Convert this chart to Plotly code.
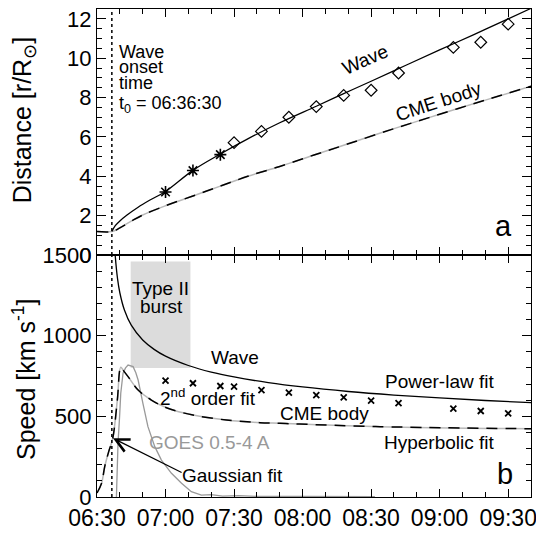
import plotly.graph_objects as go
from plotly.subplots import make_subplots

DAY = "2000-01-01 "

# ---- panel a: distance ----
eit_time = ["07:00:00", "07:12:00", "07:24:00"]
eit_dist = [3.2, 4.29, 5.1]

lasco_time = ["07:30:00", "07:42:00", "07:54:00", "08:06:00", "08:18:00",
              "08:30:00", "08:42:00", "09:06:00", "09:18:00", "09:30:00"]
lasco_dist = [5.71, 6.28, 7.0, 7.54, 8.11, 8.37, 9.25, 10.55, 10.81, 11.73]

wave_fit_time = ["06:36:30", "06:38:00", "06:40:00", "06:43:00", "06:48:00", "06:53:00",
                 "07:00:00", "07:12:00", "07:24:00", "07:36:00", "07:50:00", "08:06:00",
                 "08:18:00", "08:30:00", "08:45:00", "09:00:00", "09:15:00", "09:30:00", "09:40:00"]
wave_fit_dist = [1.19, 1.49, 1.73, 2.02, 2.43, 2.78, 3.23, 4.3, 5.13, 5.9, 6.72, 7.56,
                 8.2, 8.83, 9.63, 10.42, 11.2, 12.0, 12.53]

cme_fit_time = ["06:30:00", "06:36:30", "06:40:00", "06:45:00", "06:50:00", "07:00:00",
                "07:12:00", "07:24:00", "07:36:00", "07:50:00", "08:05:00", "08:20:00",
                "08:40:00", "09:00:00", "09:20:00", "09:40:00"]
cme_fit_dist = [1.19, 1.19, 1.38, 1.72, 2.03, 2.5, 3.0, 3.5, 4.0, 4.5, 5.08, 5.65,
                6.42, 7.15, 7.87, 8.57]

# ---- panel b: speed ----
wave_speed_time = ["06:37:36", "06:38:00", "06:39:00", "06:40:00", "06:42:00", "06:45:00",
                   "06:50:00", "06:55:00", "07:00:00", "07:10:00", "07:20:00", "07:30:00",
                   "07:45:00", "08:00:00", "08:20:00", "08:40:00", "09:00:00", "09:20:00",
                   "09:40:00"]
wave_speed = [1585, 1493, 1352, 1266, 1159, 1065, 973, 915, 873, 815, 774, 744,
              709, 682, 654, 632, 614, 598, 585]

cme_speed_time = ["06:30:00", "06:32:00", "06:33:24", "06:35:00", "06:36:54", "06:38:54",
                  "06:40:24", "06:41:30", "06:43:36", "06:48:00", "06:53:48", "07:01:00",
                  "07:12:00", "07:26:42", "07:41:18", "07:50:00", "07:58:42", "08:34:00",
                  "09:40:00"]
cme_speed = [25, 85, 190, 275, 364, 600, 805, 785, 746, 663, 601, 550,
             508, 477, 461, 457, 452, 436, 423]

meas_speed_time = eit_time + lasco_time
meas_speed = [721, 705, 688, 684, 663, 647, 632, 618, 597, 582, 548, 533, 519]

goes_time = ["06:38:30", "06:39:12", "06:39:54", "06:40:24", "06:41:24", "06:42:30",
             "06:43:36", "06:45:48", "06:47:00", "06:48:00", "06:50:06", "06:52:18",
             "06:55:18", "06:58:12", "07:02:36", "07:07:00", "07:11:18", "07:15:42",
             "07:20:00", "07:25:00", "07:32:00", "07:40:00", "08:00:00", "08:20:00",
             "08:31:40"]
goes_flux = [0, 333, 500, 643, 767, 800, 818, 808, 770, 725, 581, 436,
             312, 229, 147, 85, 33, 12, 15, 6, 8, 4, 3, 3, 2]

onset_time = "06:36:30"
typeII_start, typeII_end = "06:44:45", "07:10:54"
typeII_vmin, typeII_vmax = 800, 1460

x_start, x_end = "06:30:00", "09:40:00"


def T(lst):
    return [DAY + s for s in lst]


def t1(s):
    return DAY + s


REG = "Liberation Sans, Arial, Helvetica"
DASH = "11px,8px"
GRAY_LINE = "#b8b8b8"

fig = make_subplots(rows=2, cols=1, shared_xaxes=True, vertical_spacing=0,
                    row_heights=[246, 242])

# panel a
fig.add_trace(go.Scatter(x=T(cme_fit_time), y=cme_fit_dist, mode="lines",
                         line=dict(color=GRAY_LINE, width=1.5, shape="spline")), 1, 1)
fig.add_trace(go.Scatter(x=T(cme_fit_time), y=cme_fit_dist, mode="lines",
                         line=dict(color="black", width=1.5, dash=DASH, shape="spline")), 1, 1)
fig.add_trace(go.Scatter(x=T(wave_fit_time), y=wave_fit_dist, mode="lines",
                         line=dict(color="black", width=1.3, shape="spline")), 1, 1)
fig.add_trace(go.Scatter(x=T(eit_time), y=eit_dist, mode="markers",
                         marker=dict(symbol="asterisk-open", size=10, color="black",
                                     line=dict(width=1.6, color="black"))), 1, 1)
fig.add_trace(go.Scatter(x=T(lasco_time), y=lasco_dist, mode="markers",
                         marker=dict(symbol="diamond-open", size=9, color="black",
                                     line=dict(width=1.2, color="black"))), 1, 1)

# panel b
fig.add_trace(go.Scatter(x=T(goes_time), y=goes_flux, mode="lines",
                         line=dict(color="#999999", width=1.3)), 2, 1)
fig.add_trace(go.Scatter(x=T(cme_speed_time), y=cme_speed, mode="lines",
                         line=dict(color=GRAY_LINE, width=1.5, shape="spline")), 2, 1)
fig.add_trace(go.Scatter(x=T(cme_speed_time), y=cme_speed, mode="lines",
                         line=dict(color="black", width=1.5, dash=DASH, shape="spline")), 2, 1)
fig.add_trace(go.Scatter(x=T(wave_speed_time), y=wave_speed, mode="lines",
                         line=dict(color="black", width=1.3, shape="spline")), 2, 1)
fig.add_trace(go.Scatter(x=T(meas_speed_time), y=meas_speed, mode="markers",
                         marker=dict(symbol="x-thin-open", size=6, color="black",
                                     line=dict(width=1.8, color="black"))), 2, 1)

# shapes
fig.add_shape(type="rect", xref="x2", yref="y2", x0=t1(typeII_start), x1=t1(typeII_end),
              y0=typeII_vmin, y1=typeII_vmax, fillcolor="#dcdcdc", line=dict(width=0),
              layer="below")
for yr in ["y domain", "y2 domain"]:
    fig.add_shape(type="line", xref="x", yref=yr, x0=t1(onset_time), x1=t1(onset_time),
                  y0=0, y1=1, line=dict(color="black", width=1.5, dash="dot"))

ann = []


def A(text, x, y, yref, size=19, family=REG, angle=0, xanchor="center", color="black"):
    ann.append(dict(text=text, x=t1(x), y=y, xref="x", yref=yref, showarrow=False,
                    xanchor=xanchor, yanchor="middle", textangle=angle,
                    font=dict(size=size, family=family, color=color)))


A("Wave", "08:27:30", 9.95, "y", angle=-24)
A("CME body", "08:59:30", 7.8, "y", angle=-18)
A("Wave", "06:38:46", 10.3, "y", size=18, xanchor="left")
A("onset", "06:38:46", 9.55, "y", size=18, xanchor="left")
A("time", "06:38:46", 8.74, "y", size=18, xanchor="left")
A("t<sub>0</sub> = 06:36:30", "06:38:46", 7.66, "y", size=18, xanchor="left")
A("a", "09:27:54", 1.48, "y", size=29)

A("Type II", "06:57:54", 1293, "y2")
A("burst", "06:58:12", 1180, "y2")
A("Wave", "07:30:18", 865, "y2")
A("2<sup>nd</sup> order fit", "07:18:30", 620, "y2")
A("CME body", "08:09:42", 515, "y2")
A("Power-law fit", "09:00:06", 715, "y2")
A("Hyperbolic fit", "09:00:06", 335, "y2")
A("GOES 0.5-4 A", "07:19:24", 335, "y2", color="#999999")
A("Gaussian fit", "07:29:12", 136, "y2")
A("b", "09:28:24", 143, "y2", size=29)

ann.append(dict(text="", x=t1("06:37:00"), y=364, xref="x", yref="y2",
                ax=t1("07:07:42"), ay=147, axref="x", ayref="y2", showarrow=True,
                arrowhead=5, arrowsize=2.2, arrowwidth=1.2, arrowcolor="black", standoff=0))

# y-axis titles (placed as rotated text left of the tick labels)
ann.append(dict(text="Distance [r/R<sub>⊙</sub>]", xref="paper", yref="paper",
                x=-0.168, y=0.772, showarrow=False, textangle=-90,
                xanchor="center", yanchor="middle",
                font=dict(size=25, family=REG, color="black")))
ann.append(dict(text="Speed [km s<sup>-1</sup>]", xref="paper", yref="paper",
                x=-0.168, y=0.24, showarrow=False, textangle=-90,
                xanchor="center", yanchor="middle",
                font=dict(size=25, family=REG, color="black")))

fig.update_layout(annotations=ann)

axis_common = dict(showline=True, linecolor="black", linewidth=1.3, mirror="ticks",
                   ticks="inside", tickcolor="black", tickwidth=1.2, showgrid=False,
                   zeroline=False, automargin=False, ticklabeloverflow="allow")
fig.update_xaxes(**axis_common, type="date", range=[t1(x_start), t1(x_end)],
                 dtick=30 * 60 * 1000, tick0=t1("06:30:00"), tickformat="%H:%M",
                 ticklen=8, minor=dict(dtick=10 * 60 * 1000, ticklen=5, ticks="inside",
                                       tickcolor="black", tickwidth=1.2),
                 tickfont=dict(size=23, family=REG, color="black"))
fig.update_xaxes(showticklabels=False, row=1, col=1)
fig.update_yaxes(**axis_common, tickfont=dict(size=22, family=REG, color="black"))
fig.update_yaxes(range=[0, 12.5], dtick=2, ticklen=9,
                 minor=dict(dtick=0.5, ticklen=5, ticks="inside", tickcolor="black", tickwidth=1.2),
                 row=1, col=1)
fig.update_yaxes(range=[0, 1500], tickvals=[0, 500, 1000, 1500], ticklen=9,
                 minor=dict(dtick=100, ticklen=5, ticks="inside", tickcolor="black", tickwidth=1.2),
                 row=2, col=1)

fig.update_layout(width=536, height=534,
                  margin=dict(l=97, r=5, t=9, b=37, autoexpand=False),
                  plot_bgcolor="white", paper_bgcolor="white", showlegend=False)

fig.write_html("out.html")
